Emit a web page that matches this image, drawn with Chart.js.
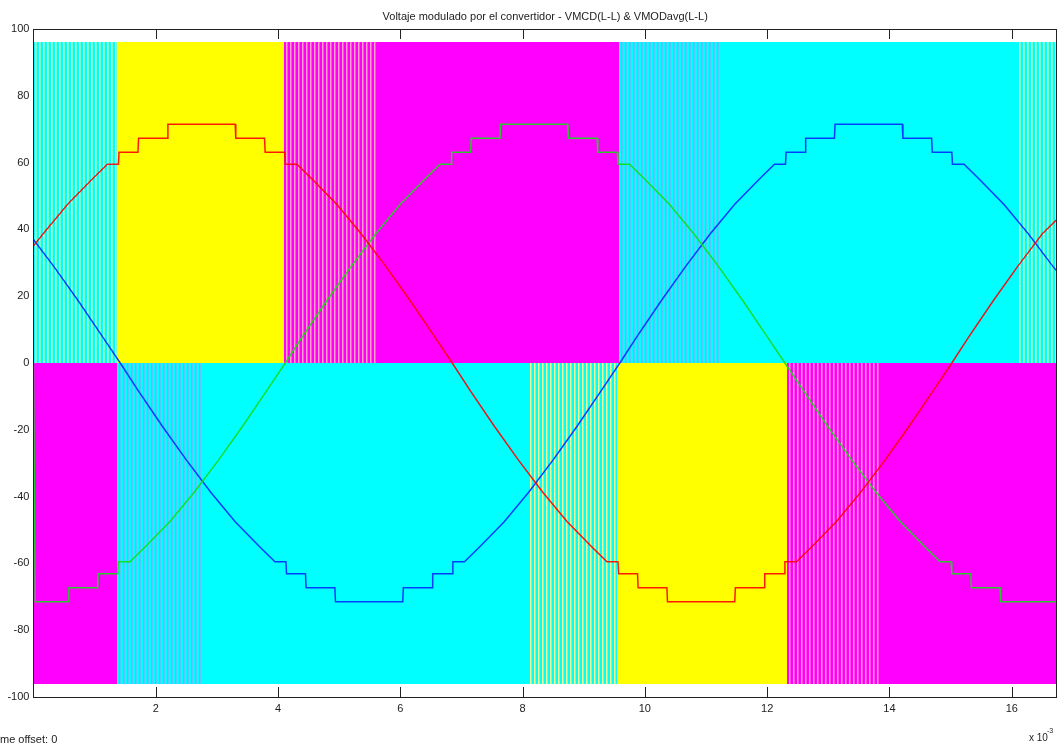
<!DOCTYPE html>
<html>
<head>
<meta charset="utf-8">
<script src="https://cdn.jsdelivr.net/npm/chart.js@4.4.0/dist/chart.umd.min.js"></script>
<style>
    html, body { margin: 0; padding: 0; background: #fff; }
    #wrap { position: relative; width: 1059px; height: 747px; }
</style>
</head>
<body>
<div id="wrap"><canvas id="chart" width="1059" height="747"></canvas></div>
<script>
// Axis ticks (time in ms, x 10^-3 s)
const xTicks = [2, 4, 6, 8, 10, 12, 14, 16];
const yTicks = [-100, -80, -60, -40, -20, 0, 20, 40, 60, 80, 100];
const xMax = 16.74;

// Converter state bands: c = cyan, y = yellow, m = magenta, two letters = PWM switching between them
const bandLevel = 96;
const upperFrom = [0, 1.37, 4.10, 5.62, 9.57, 11.26, 16.08];
const upperTo = [1.37, 4.10, 5.62, 9.57, 11.26, 16.08, 16.74];
const upperState = ['cy', 'y', 'my', 'm', 'cm', 'c', 'cy'];
const lowerFrom = [0, 1.37, 2.77, 8.09, 9.55, 12.33, 13.85];
const lowerTo = [1.37, 2.77, 8.09, 9.55, 12.33, 13.85, 16.74];
const lowerState = ['m', 'cm', 'c', 'cy', 'y', 'my', 'm'];

// Averaged modulated line-to-line voltages [t (ms), V]
const vRed = [[0,35],[0.16,38.7],[0.56,47.5],[0.96,55],[1.21,59.5],[1.39,59.5],[1.40,63.1],[1.71,63.1],[1.72,67.3],[2.19,67.3],[2.20,71.5],[3.30,71.5],[3.31,67.3],[3.78,67.3],[3.79,63.1],[4.11,63.1],[4.12,59.5],[4.31,59.5],[4.56,55],[4.96,47.5],[5.36,38.7],[5.76,29],[6.16,18.7],[6.56,7.9],[6.85,0],[7.13,-7.9],[7.53,-18.7],[7.93,-29],[8.33,-38.7],[8.73,-47.5],[9.13,-55],[9.38,-59.5],[9.56,-59.5],[9.57,-63.1],[9.88,-63.1],[9.89,-67.3],[10.36,-67.3],[10.37,-71.5],[11.47,-71.5],[11.48,-67.3],[11.95,-67.3],[11.96,-63.1],[12.28,-63.1],[12.29,-59.5],[12.48,-59.5],[12.73,-55],[13.13,-47.5],[13.53,-38.7],[13.93,-29],[14.33,-18.7],[14.73,-7.9],[15.02,0],[15.30,7.9],[15.70,18.7],[16.10,29],[16.50,38.7],[16.74,43]];
const vGreen = [[0,0],[0.03,-71.5],[0.57,-71.5],[0.58,-67.3],[1.05,-67.3],[1.06,-63.1],[1.38,-63.1],[1.39,-59.5],[1.58,-59.5],[1.83,-55],[2.23,-47.5],[2.63,-38.7],[3.03,-29],[3.43,-18.7],[3.83,-7.9],[4.12,0],[4.40,7.9],[4.80,18.7],[5.20,29],[5.60,38.7],[6.00,47.5],[6.40,55],[6.65,59.5],[6.83,59.5],[6.84,63.1],[7.15,63.1],[7.16,67.3],[7.63,67.3],[7.64,71.5],[8.74,71.5],[8.75,67.3],[9.22,67.3],[9.23,63.1],[9.55,63.1],[9.56,59.5],[9.75,59.5],[10.00,55],[10.40,47.5],[10.80,38.7],[11.20,29],[11.60,18.7],[12.00,7.9],[12.29,0],[12.58,-7.9],[12.98,-18.7],[13.38,-29],[13.78,-38.7],[14.18,-47.5],[14.58,-55],[14.83,-59.5],[15.01,-59.5],[15.02,-63.1],[15.33,-63.1],[15.34,-67.3],[15.81,-67.3],[15.82,-71.5],[16.74,-71.5]];
const vBlue = [[0,37],[0.33,29],[0.73,18.7],[1.13,7.9],[1.42,0],[1.70,-7.9],[2.10,-18.7],[2.50,-29],[2.90,-38.7],[3.30,-47.5],[3.70,-55],[3.95,-59.5],[4.13,-59.5],[4.14,-63.1],[4.45,-63.1],[4.46,-67.3],[4.93,-67.3],[4.94,-71.5],[6.04,-71.5],[6.05,-67.3],[6.52,-67.3],[6.53,-63.1],[6.85,-63.1],[6.86,-59.5],[7.05,-59.5],[7.30,-55],[7.70,-47.5],[8.10,-38.7],[8.50,-29],[8.90,-18.7],[9.30,-7.9],[9.59,0],[9.87,7.9],[10.27,18.7],[10.67,29],[11.07,38.7],[11.47,47.5],[11.87,55],[12.12,59.5],[12.30,59.5],[12.31,63.1],[12.62,63.1],[12.63,67.3],[13.10,67.3],[13.11,71.5],[14.21,71.5],[14.22,67.3],[14.69,67.3],[14.70,63.1],[15.02,63.1],[15.03,59.5],[15.22,59.5],[15.47,55],[15.87,47.5],[16.27,38.7],[16.67,29],[16.74,27.5]];

const titleText = 'Voltaje modulado por el convertidor - VMCD(L-L) & VMODavg(L-L)';
const fontFamily = "'Liberation Sans', Arial, sans-serif";
const stateColors = { c: '#00ffff', y: '#ffff00', m: '#ff00ff' };
const stripeColors = { y: '#f0ff90', m: '#b090ff' };
const stripeOnMagenta = '#ffa0c8';

function toPoints(arr) {
    return arr.map(p => ({ x: p[0], y: p[1] }));
}

// Paint one band of state blocks between two voltage levels
function drawBand(ctx, xs, ys, from, to, states, lo, hi) {
    const top = Math.round(ys.getPixelForValue(hi));
    const bottom = Math.round(ys.getPixelForValue(lo));
    for (let i = 0; i < from.length; i++) {
        const x0 = Math.round(xs.getPixelForValue(from[i]));
        const x1 = Math.round(xs.getPixelForValue(to[i]));
        const base = states[i][0];
        const stripe = states[i][1];
        ctx.fillStyle = stateColors[base];
        ctx.fillRect(x0, top, x1 - x0, bottom - top);
        if (stripe) {
            ctx.fillStyle = base === 'm' ? stripeOnMagenta : stripeColors[stripe];
            for (let px = x0 + 2; px < x1 - 1; px += 4) {
                ctx.fillRect(px, top, 1.5, bottom - top);
            }
        }
    }
}

const bandPlugin = {
    id: 'bands',
    beforeDatasetsDraw(chart) {
        const { ctx, chartArea, scales } = chart;
        ctx.save();
        ctx.beginPath();
        ctx.rect(chartArea.left, chartArea.top, chartArea.width, chartArea.height);
        ctx.clip();
        drawBand(ctx, scales.x, scales.y, upperFrom, upperTo, upperState, 0, bandLevel);
        drawBand(ctx, scales.x, scales.y, lowerFrom, lowerTo, lowerState, -bandLevel, 0);
        ctx.restore();
    }
};

// Axes box, inward tick marks and the loose texts
const framePlugin = {
    id: 'frame',
    afterDraw(chart) {
        const { ctx, chartArea, scales } = chart;
        const { left, right, top, bottom } = chartArea;
        ctx.save();
        ctx.strokeStyle = '#222';
        ctx.lineWidth = 1;
        ctx.strokeRect(Math.round(left) + 0.5, Math.round(top) + 0.5,
            Math.round(right - left) - 1, Math.round(bottom - top));
        ctx.beginPath();
        xTicks.forEach(v => {
            const px = Math.round(scales.x.getPixelForValue(v)) + 0.5;
            ctx.moveTo(px, top);
            ctx.lineTo(px, top + 10);
            ctx.moveTo(px, bottom);
            ctx.lineTo(px, bottom - 10);
        });
        ctx.stroke();

        ctx.fillStyle = '#222';
        ctx.textBaseline = 'middle';
        ctx.textAlign = 'center';
        ctx.font = '11px ' + fontFamily;
        ctx.fillText(titleText, (left + right) / 2, 17);

        ctx.textAlign = 'left';
        ctx.font = '10px ' + fontFamily;
        ctx.fillText('x 10', 1029, 738);
        ctx.font = '7px ' + fontFamily;
        ctx.fillText('-3', 1047, 731);
        ctx.font = '11px ' + fontFamily;
        ctx.fillText('me offset: 0', 0, 740);
        ctx.restore();
    }
};

const tickFont = { family: fontFamily, size: 11 };

new Chart(document.getElementById('chart'), {
    type: 'line',
    data: {
        datasets: [
            { label: 'red', data: toPoints(vRed), borderColor: 'rgba(255,0,0,0.9)' },
            { label: 'green', data: toPoints(vGreen), borderColor: 'rgba(20,220,20,0.9)' },
            { label: 'blue', data: toPoints(vBlue), borderColor: 'rgba(0,40,255,0.9)' }
        ]
    },
    options: {
        responsive: false,
        animation: false,
        devicePixelRatio: 1,
        parsing: false,
        datasets: {
            line: { borderWidth: 1.5, pointRadius: 0, tension: 0, fill: false }
        },
        layout: { padding: { left: 0, right: 2, top: 29, bottom: 0 } },
        plugins: {
            legend: { display: false },
            tooltip: { enabled: false },
            title: { display: false }
        },
        scales: {
            x: {
                type: 'linear',
                min: 0,
                max: xMax,
                afterBuildTicks: s => { s.ticks = xTicks.map(v => ({ value: v })); },
                afterFit: s => { s.height = 50; },
                grid: { display: false, drawTicks: false },
                border: { display: false },
                ticks: { padding: 5, font: tickFont, color: '#222', maxRotation: 0, autoSkip: false }
            },
            y: {
                type: 'linear',
                min: -100,
                max: 100,
                afterBuildTicks: s => { s.ticks = yTicks.map(v => ({ value: v })); },
                afterFit: s => { s.width = 33.4; },
                grid: { display: false, drawTicks: false },
                border: { display: false },
                ticks: { padding: 4, font: tickFont, color: '#222', autoSkip: false }
            }
        }
    },
    plugins: [bandPlugin, framePlugin]
});
</script>
</body>
</html>
